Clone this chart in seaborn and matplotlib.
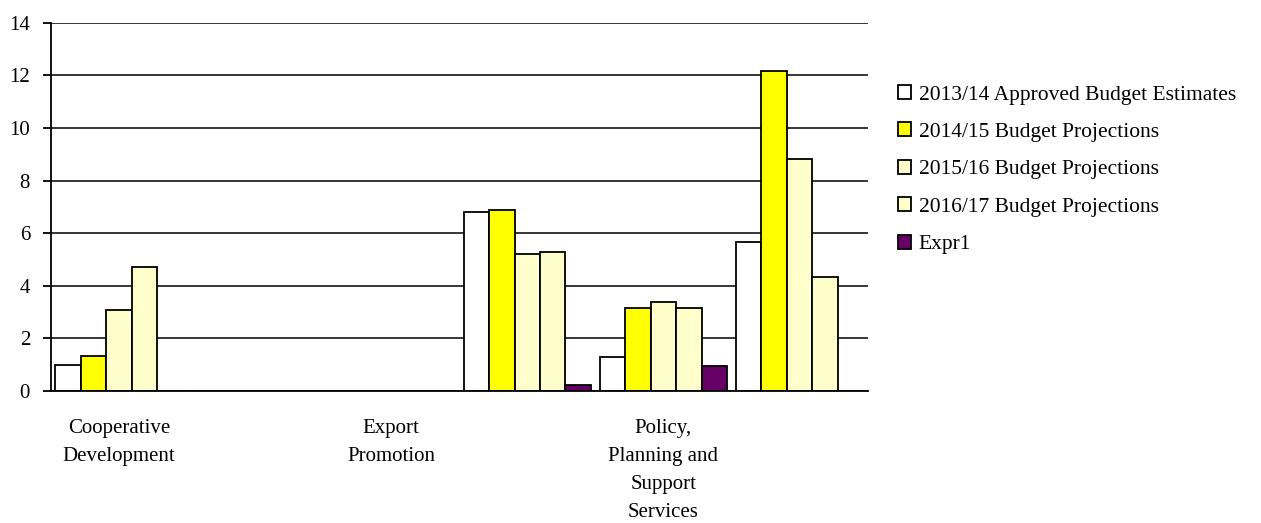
import numpy as np
import pandas as pd
import seaborn as sns
import matplotlib.pyplot as plt
from matplotlib.ticker import FixedLocator

# categories (only every other one is labelled in the source chart)
categories = ['Cooperative Development', 'Cat 2', 'Export Promotion',
              'Cat 4', 'Policy, Planning and Support Services', 'Cat 6']
tick_labels = ['Cooperative\nDevelopment', '', 'Export\nPromotion', '',
               'Policy,\nPlanning and\nSupport\nServices', '']

series = ['2013/14 Approved Budget Estimates', '2014/15 Budget Projections',
          '2015/16 Budget Projections', '2016/17 Budget Projections', 'Expr1']

approved_1314 = [1.0, 0, 0, 6.8, 1.28, 5.67]
proj_1415 = [1.34, 0, 0, 6.88, 3.17, 12.18]
proj_1516 = [3.09, 0, 0, 5.21, 3.40, 8.83]
proj_1617 = [4.70, 0, 0, 5.28, 3.17, 4.32]
expr1 = [0, 0, 0, 0.22, 0.96, 0]

colors = ['#FFFFFF', '#FFFF00', '#FFFFCC', '#FFFFCC', '#660066']

rows = []
for s, vals in zip(series, [approved_1314, proj_1415, proj_1516, proj_1617, expr1]):
    for c, v in zip(categories, vals):
        rows.append({'category': c, 'series': s, 'value': v})
df = pd.DataFrame(rows)

sns.set_style('white')
plt.rcParams['font.family'] = ['Liberation Serif', 'DejaVu Serif']
plt.rcParams['text.color'] = 'black'

fig = plt.figure(figsize=(12.61, 5.23), dpi=100)
ax = fig.add_axes([0.0404, 0.2524, 0.6476, 0.7042])

sns.barplot(data=df, x='category', y='value', hue='series', order=categories,
            hue_order=series, palette=colors, width=0.935, edgecolor='black',
            linewidth=1.3, saturation=1, ax=ax, legend=True)

ax.set_xlim(-0.5, len(categories) - 0.5)
ax.set_ylim(0, 14)
ax.set_yticks(np.arange(0, 15, 2))
ax.yaxis.grid(True, color='black', linewidth=1.1)
ax.set_axisbelow(True)
ax.set_xlabel('')
ax.set_ylabel('')

for side in ['top', 'right']:
    ax.spines[side].set_visible(False)
for side in ['left', 'bottom']:
    ax.spines[side].set_color('black')
    ax.spines[side].set_linewidth(1.3)

ax.set_xticks(range(len(categories)))
ax.set_xticklabels(tick_labels, fontsize=15, linespacing=1.65, color='black')
ax.tick_params(axis='x', which='major', length=0, pad=20)
ax.xaxis.set_minor_locator(FixedLocator(np.arange(-0.5, len(categories), 1)))
ax.tick_params(axis='x', which='minor', length=6, width=1.3, color='black', direction='out')
ax.tick_params(axis='y', length=6, width=1.3, color='black', direction='out',
               labelsize=15, labelcolor='black', pad=9, left=True)

handles, labels = ax.get_legend_handles_labels()
leg = ax.legend(handles, labels, loc='upper left', bbox_to_anchor=(898 / 1261, 1 - 85 / 523),
                bbox_transform=fig.transFigure, frameon=False, fontsize=15.5,
                handlelength=0.62, handleheight=0.62, handletextpad=0.35,
                labelspacing=0.83, borderpad=0, borderaxespad=0)
for t in leg.get_texts():
    t.set_color('black')

fig.savefig('out.png', dpi=100)
